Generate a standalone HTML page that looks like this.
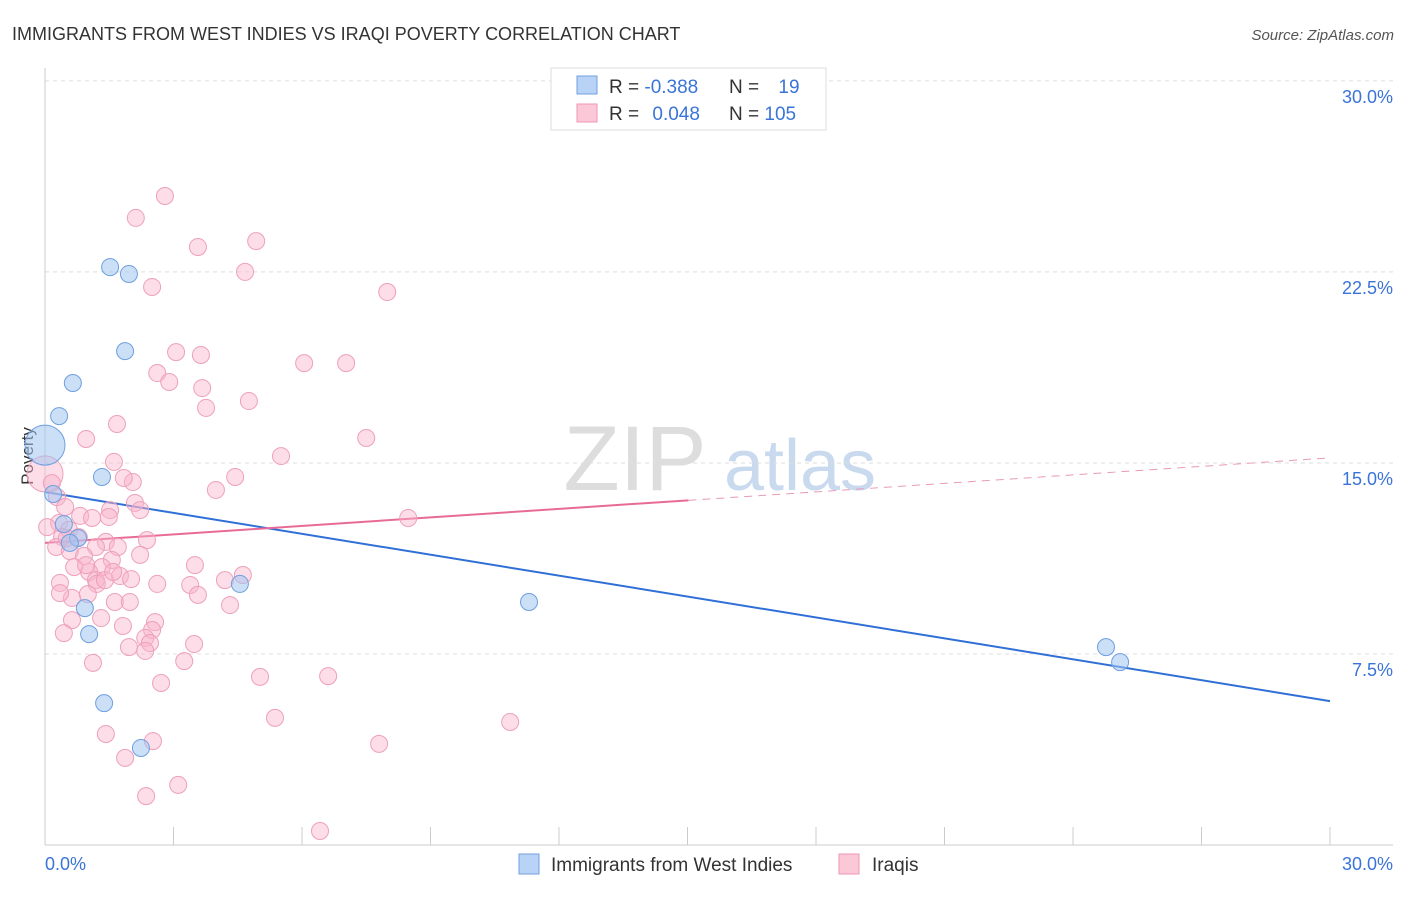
<!DOCTYPE html>
<html><head><meta charset="utf-8"><style>
body{margin:0;background:#fff;font-family:"Liberation Sans",sans-serif}
svg text{font-family:"Liberation Sans",sans-serif}
</style></head><body>
<svg id="c" width="1406" height="892">
<text x="12" y="40" font-size="18" fill="#333">IMMIGRANTS FROM WEST INDIES VS IRAQI POVERTY CORRELATION CHART</text>
<text x="1394" y="40" font-size="15" fill="#555" font-style="italic" text-anchor="end">Source: ZipAtlas.com</text>
<g><text x="635" y="490" font-size="92" font-family="Liberation Serif" fill="#ddd" text-anchor="middle">ZIP</text><text x="800" y="490" font-size="72" fill="#c9d9ee" text-anchor="middle">atlas</text></g>
<text transform="translate(33,456) rotate(-90)" font-size="17" fill="#333" text-anchor="middle">Poverty</text>
<g id="grid"></g><g id="axes"></g><g id="trend"></g><g id="pts"></g>
<g>
<rect x="551" y="68" width="275" height="62" fill="#fff" stroke="#ddd"/>
<rect x="577" y="76" width="20" height="18" fill="#b8d3f5" stroke="#6f9fe0"/>
<rect x="577" y="104" width="20" height="18" fill="#fbc8d8" stroke="#ef96b3"/>
<text x="609" y="93" font-size="19" fill="#333">R = <tspan fill="#3a74d8">-0.388</tspan></text>
<text x="729" y="93" font-size="19" fill="#333">N = <tspan fill="#3a74d8" dx="14">19</tspan></text>
<text x="609" y="120" font-size="19" fill="#333">R = <tspan fill="#3a74d8" dx="8">0.048</tspan></text>
<text x="729" y="120" font-size="19" fill="#333">N = <tspan fill="#3a74d8">105</tspan></text>
</g>
<g>
<rect x="519" y="854" width="20" height="20" fill="#b8d3f5" stroke="#6f9fe0"/>
<text x="551" y="871" font-size="19" fill="#333">Immigrants from West Indies</text>
<rect x="839" y="854" width="20" height="20" fill="#fbc8d8" stroke="#ef96b3"/>
<text x="872" y="871" font-size="19" fill="#333">Iraqis</text>
</g>
</svg>
<script>
const yTicks=[7.5,15,22.5,30];
const yTickLabels=["7.5%","15.0%","22.5%","30.0%"];
const xTickLabels=["0.0%","30.0%"];
const blueX=[0,0.33,0.65,1.52,1.96,1.87,1.33,0.19,0.44,0.77,0.58,0.93,1.03,1.38,2.24,4.55,11.3,24.77,25.1];
const blueY=[15.7,16.84,18.14,22.69,22.42,19.39,14.45,13.78,12.6,12.05,11.86,9.3,8.28,5.57,3.81,10.25,9.54,7.77,7.18];
const pinkX=[2.8,2.12,3.57,4.93,4.67,2.5,7.99,3.06,3.64,6.05,7.03,2.62,2.9,3.67,4.76,3.76,1.68,0.96,7.5,5.51,0,1.61,0.16,2.05,1.84,4.44,3.99,0.28,2.1,0.47,0.82,1.52,1.1,2.22,0.33,0.56,1.49,8.48,0.05,0.4,0.79,1.42,2.38,0.26,1.19,1.7,0.58,1.56,0.91,2.22,0.68,1.33,3.5,1.03,1.75,0.35,1.19,2.01,4.2,4.62,2.62,3.39,1.21,0.63,1,3.57,1.63,1.98,4.32,0.63,1.31,2.57,1.82,2.5,0.44,2.34,2.45,1.96,3.48,2.34,3.25,1.12,5.02,6.61,2.71,5.37,10.86,1.42,2.52,7.8,1.87,3.11,2.36,6.42,0.35,1.4,1.59,0.96,0.51];
const pinkY=[25.48,24.62,23.48,23.71,22.5,21.91,21.71,19.35,19.24,18.92,18.92,18.53,18.18,17.94,17.43,17.16,16.53,15.94,15.98,15.27,14.57,15.04,14.21,14.25,14.41,14.45,13.94,13.66,13.43,13.27,12.92,13.15,12.84,13.15,12.64,12.37,12.88,12.84,12.48,12.09,12.09,11.9,11.97,11.7,11.7,11.7,11.54,11.19,11.35,11.39,10.91,10.91,10.99,10.72,10.56,10.29,10.4,10.44,10.4,10.6,10.25,10.21,10.25,9.7,9.85,9.82,9.54,9.54,9.42,8.83,8.91,8.75,8.6,8.44,8.32,8.13,7.93,7.77,7.89,7.62,7.22,7.15,6.6,6.63,6.36,4.99,4.83,4.36,4.08,3.97,3.42,2.36,1.92,0.55,9.89,10.4,10.72,10.99,12.05];
const blueTrend=[13.86,5.65];
const pinkTrend=[11.86,15.2];
const pinkSolidEnd=15.02;
const X=v=>45+v*(1285/30), Y=v=>845-v*25.47;
const NS="http://www.w3.org/2000/svg";
function mk(p,t,a){const e=document.createElementNS(NS,t);for(const k in a)e.setAttribute(k,a[k]);document.getElementById(p).appendChild(e);return e;}
yTicks.forEach((t,i)=>{
 const g=mk('grid','line',{x1:45,x2:1393,y1:Y(t),y2:Y(t),stroke:'#ddd','stroke-dasharray':'4,4'});
 
 
 const l=mk('grid','text',{x:1393,y:Y(t)+22,'font-size':18,fill:'#3a74d8','text-anchor':'end'});l.textContent=yTickLabels[i];
 
 
});
const ax=mk('axes','line',{x1:45,x2:45,y1:68,y2:845,stroke:'#ccc'});


const bx=mk('axes','line',{x1:45,x2:1393,y1:845,y2:845,stroke:'#ccc'});


for(let i=0;i<=10;i++){const t=mk('axes','line',{x1:X(i*3),x2:X(i*3),y1:827,y2:845,stroke:'#ccc'});
 
 }
[[0,'start',45],[30,'end',1393]].forEach((d,i)=>{const l=mk('axes','text',{x:d[2],y:870,'font-size':18,fill:'#3a74d8','text-anchor':d[1]});l.textContent=xTickLabels[i];
 
 });
const bt=mk('trend','line',{x1:X(0),y1:Y(blueTrend[0]),x2:X(30),y2:Y(blueTrend[1]),stroke:'#2f6fd6','stroke-width':2});


const pm=pinkTrend[0]+(pinkTrend[1]-pinkTrend[0])*pinkSolidEnd/30;
const pt=mk('trend','line',{x1:X(0),y1:Y(pinkTrend[0]),x2:X(pinkSolidEnd),y2:Y(pm),stroke:'#e86b97','stroke-width':2});


const pd=mk('trend','line',{x1:X(pinkSolidEnd),y1:Y(pm),x2:X(30),y2:Y(pinkTrend[1]),stroke:'#e89ab5','stroke-width':1,'stroke-dasharray':'8,6'});


pinkX.forEach((x,i)=>{const c=mk('pts','circle',{cx:X(x),cy:Y(pinkY[i]),r:i==20?18:8.5,fill:'rgba(248,180,204,0.45)',stroke:'#eea0bb','stroke-width':1});
 
 });
blueX.forEach((x,i)=>{const c=mk('pts','circle',{cx:X(x),cy:Y(blueY[i]),r:i==0?20:8.5,fill:'rgba(160,196,240,0.55)',stroke:'#6f9fe0','stroke-width':1});
 
 });
</script>
</body></html>
